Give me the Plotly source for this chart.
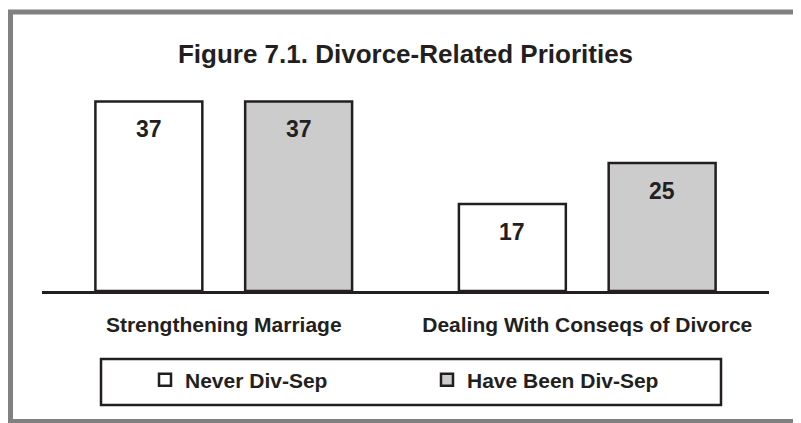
"""Figure 7.1 — Divorce-Related Priorities, grouped bars by marital history."""
import plotly.graph_objects as go

categories = ["Strengthening Marriage", "Dealing With Conseqs of Divorce"]
series_names = ["Never Div-Sep", "Have Been Div-Sep"]
never_div_sep = [37, 17]
have_been_div_sep = [37, 25]

TEXT = "#231f20"
FONT = "Liberation Sans, Arial, sans-serif"
PAGE = 8  # default body margin of the html page
W, H = 801 - PAGE, 423 - PAGE
L, R, T, B = 42 - PAGE, 32, 86 - PAGE, 132
PLOT_W = W - L - R
PLOT_H = H - T - B


def px_x(sx):
    # screen pixel -> paper fraction
    return (sx - PAGE - L) / PLOT_W


def px_y(sy):
    return (H - B - (sy - PAGE)) / PLOT_H


fig = go.Figure()
fills = ["#ffffff", "#cccccc"]
for name, vals, fill in zip(series_names, [never_div_sep, have_been_div_sep], fills):
    fig.add_trace(go.Bar(
        x=categories, y=vals, name=name,
        marker=dict(color=fill, line=dict(color=TEXT, width=2.5)),
        hoverinfo="skip",
    ))

# value labels sit a little below each bar's top
for shift, vals in zip([-75, 75], [never_div_sep, have_been_div_sep]):
    for cat, v in zip(categories, vals):
        fig.add_annotation(
            x=cat, y=v, xshift=shift, yshift=-28, showarrow=False,
            text=str(v), yanchor="middle",
            font=dict(family=FONT, size=23, color=TEXT, weight="bold"),
        )

# legend frame and outer gray border
fig.add_shape(type="rect", xref="paper", yref="paper",
              x0=px_x(101), x1=px_x(721), y0=px_y(359), y1=px_y(405),
              line=dict(color=TEXT, width=2.5))
fig.add_shape(type="rect", xref="paper", yref="paper",
              x0=px_x(10.5), x1=px_x(799.5), y0=px_y(12), y1=px_y(421.5),
              line=dict(color="#808080", width=5))

fig.update_layout(
    width=W, height=H,
    margin=dict(l=L, r=R, t=T, b=B),
    paper_bgcolor="white", plot_bgcolor="white",
    barmode="group", bargap=0.176, bargroupgap=0.286,
    title=dict(
        text="Figure 7.1. Divorce-Related Priorities",
        x=0.5, xref="paper", xanchor="center",
        y=1 - (54 - PAGE) / H, yref="container", yanchor="middle",
        font=dict(family=FONT, size=26, color=TEXT, weight="bold"),
    ),
    xaxis=dict(
        showline=True, linecolor=TEXT, linewidth=3,
        ticks="", showgrid=False, zeroline=False,
        tickfont=dict(family=FONT, size=21, color=TEXT, weight="bold"),
        ticklabelstandoff=13,
    ),
    yaxis=dict(visible=False, range=[0, 40], showgrid=False, zeroline=False),
    legend=dict(
        orientation="h", xref="paper", yref="container",
        x=px_x(145), xanchor="left", y=1 - (380 - PAGE) / H, yanchor="middle",
        entrywidth=237, bgcolor="rgba(0,0,0,0)", borderwidth=0,
        font=dict(family=FONT, size=21, color=TEXT, weight="bold"),
    ),
    showlegend=True,
)

fig.write_html("out.html")
